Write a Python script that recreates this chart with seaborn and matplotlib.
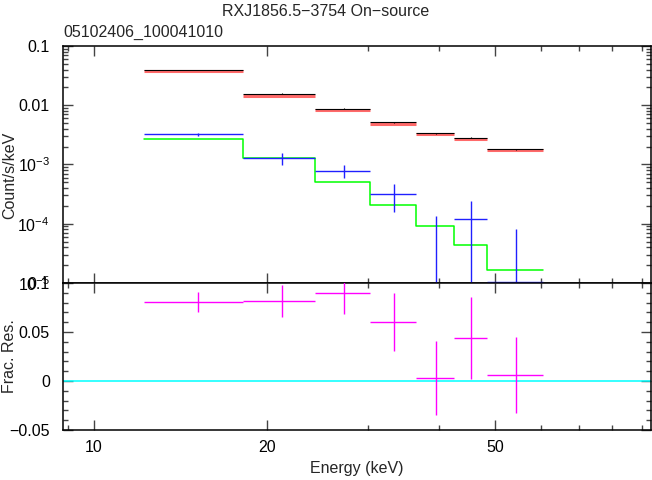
import numpy as np
import seaborn as sns
import matplotlib.pyplot as plt
from matplotlib.ticker import FixedLocator, FixedFormatter, NullFormatter, MultipleLocator

# bin edges (keV) and values
edges = [12.2, 18.2, 24.25, 30.3, 36.4, 42.4, 48.4, 60.5]
data_rate = [0.0394, 0.01567, 0.00875, 0.00515, 0.00336, 0.00283, 0.0018]
data_err = [0.0006, 0.0003, 0.00018, 0.00012, 0.00008, 0.00006, 0.00004]
model_rate = [0.0374, 0.0145, 0.0082, 0.0049, 0.00330, 0.00273, 0.00176]
bkg_rate = [0.00324, 0.00127, 7.87e-4, 3.18e-4, 4e-6, 1.2e-4, 1.05e-5]
bkg_lo = [0.00017, 0.00029, 2.0e-4, 1.59e-4, 3.9e-6, 1.19e-4, 1.04e-5]
bkg_hi = [0.00017, 0.00029, 2.0e-4, 1.49e-4, 1.31e-4, 1.2e-4, 7.0e-5]
bkg_model = [0.00266, 0.00127, 5.0e-4, 2.07e-4, 9.15e-5, 4.43e-5, 1.66e-5]
resid = [0.0803, 0.0816, 0.0901, 0.0605, 0.0031, 0.0436, 0.0064]
resid_err = [0.0102, 0.0165, 0.022, 0.0296, 0.038, 0.042, 0.0388]

title = "RXJ1856.5\u22123754 On\u2212source"
subtitle = "05102406_100041010"

sns.set_theme(style="ticks")
plt.rcParams['font.family'] = ['Liberation Sans', 'DejaVu Sans']
plt.rcParams['mathtext.fontset'] = 'custom'
plt.rcParams['mathtext.rm'] = 'Liberation Sans'

fs = 11.5
e = np.array(edges)
cen = (e[:-1] + e[1:]) / 2
hw = (e[1:] - e[:-1]) / 2

fig = plt.figure(figsize=(6.52, 4.8), dpi=100)
ax1 = fig.add_axes([0.0966, 0.4104, 0.902, 0.4938])
ax2 = fig.add_axes([0.0966, 0.1042, 0.902, 0.3062], sharex=ax1)

# upper panel
ax1.hlines(model_rate, e[:-1], e[1:], color='#ff6a6a', lw=2.2, zorder=2)
ax1.errorbar(cen, data_rate, xerr=hw, yerr=data_err, fmt='none', ecolor='black', elinewidth=0.8, zorder=3)
sns.lineplot(x=edges, y=bkg_model + [bkg_model[-1]], drawstyle='steps-post', estimator=None,
             color='#00ff00', lw=1.1, ax=ax1, zorder=2)
ax1.errorbar(cen, bkg_rate, xerr=hw, yerr=[bkg_lo, bkg_hi], fmt='none', ecolor='#2020ff', elinewidth=1.0, zorder=3)
ax1.set_xscale('log')
ax1.set_yscale('log')
ax1.set_xlim(8.83, 93.5)
ax1.set_ylim(1e-5, 0.1)
ax1.yaxis.set_major_locator(FixedLocator([1e-5, 1e-4, 1e-3, 1e-2, 1e-1]))
ax1.yaxis.set_major_formatter(FixedFormatter(['10$^{-5}$', '10$^{-4}$', '10$^{-3}$', '0.01', '0.1']))
ax1.set_ylabel('Count/s/keV', fontsize=fs)
ax1.yaxis.set_label_coords(-0.078, 0.456)
ax1.tick_params(labelbottom=False)

# lower panel
ax2.axhline(0, color='#00ffff', lw=1.1, zorder=1)
ax2.errorbar(cen, resid, xerr=hw, yerr=resid_err, fmt='none', ecolor='#ff00ff', elinewidth=1.0, zorder=3)
ax2.set_ylim(-0.05, 0.1)
ax2.yaxis.set_major_locator(FixedLocator([-0.05, 0, 0.05, 0.1]))
ax2.yaxis.set_major_formatter(FixedFormatter(['\u22120.05', '0', '0.05', '0.1']))
ax2.yaxis.set_minor_locator(MultipleLocator(0.01))
ax2.set_ylabel('Frac. Res.', fontsize=fs)
ax2.yaxis.set_label_coords(-0.078, 0.5)
ax2.set_xlabel('Energy (keV)', fontsize=fs, labelpad=4)
ax2.xaxis.set_major_locator(FixedLocator([10, 20, 50]))
ax2.xaxis.set_major_formatter(FixedFormatter(['10', '20', '50']))
ax2.xaxis.set_minor_locator(FixedLocator([9, 30, 40, 60, 70, 80, 90]))
ax2.xaxis.set_minor_formatter(NullFormatter())

for ax in (ax1, ax2):
    for sp in ax.spines.values():
        sp.set_visible(True)
        sp.set_linewidth(1.1)
        sp.set_color('black')
    ax.tick_params(which='both', direction='in', top=True, right=True, colors='#444444',
                   labelcolor='black', labelsize=fs, width=1.0)
    ax.tick_params(which='major', length=7)
    ax.tick_params(which='minor', length=3.5)
    ax.tick_params(axis='y', which='major', pad=9.5)
    ax.tick_params(axis='x', which='major', pad=7.5)

fig.text(0.5, 0.992, title, ha='center', va='top', fontsize=fs)
fig.text(0.0966, 0.9476, subtitle, ha='left', va='top', fontsize=fs)

fig.savefig('out.png', dpi=100)
